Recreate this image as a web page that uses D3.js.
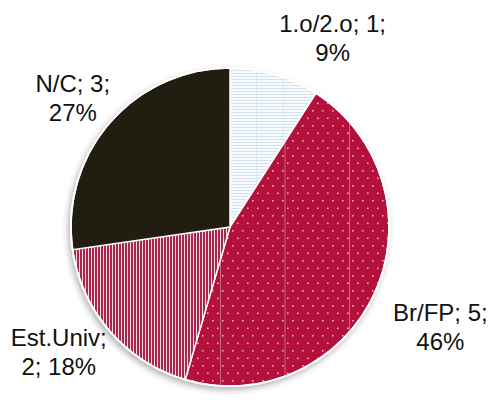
<!DOCTYPE html>
<html>
<head>
<meta charset="utf-8">
<script src="https://cdn.jsdelivr.net/npm/d3@7"></script>
<style>
    body { margin: 0; background: #ffffff; }
    svg { display: block; }
    .slice-label { font-family: "Liberation Sans", Arial, sans-serif; font-size: 24px; fill: #111111; }
</style>
</head>
<body>
<div id="chart"></div>
<script>
// Chart data.
var categories = ["1.o/2.o", "Br/FP", "Est.Univ", "N/C"];
var counts = [1, 5, 2, 3];
var percentLabels = ["9%", "46%", "18%", "27%"];
// How each label is broken into lines, as the reference does it.
var labelLines = [
    ["1.o/2.o; 1;", "9%"],
    ["Br/FP; 5;", "46%"],
    ["Est.Univ;", "2; 18%"],
    ["N/C; 3;", "27%"]
];

var width = 491;
var height = 403;
var centerX = 230;
var centerY = 227;
var radius = 159;
var lineHeight = 29;

// Label placement: radius factor and nudge for each slice label (layout only).
var labelRadius = [1.22, 1.42, 1.45, 1.25];
var labelNudge = [[48, -2], [5, 7], [3, -25], [-7, 2]];

var svg = d3.select("#chart")
    .append("svg")
    .attr("width", width)
    .attr("height", height);

var defs = svg.append("defs");

// Soft shadow below the pie.
var shadow = defs.append("filter")
    .attr("id", "pie-shadow")
    .attr("x", "-20%")
    .attr("y", "-20%")
    .attr("width", "140%")
    .attr("height", "140%");
shadow.append("feDropShadow")
    .attr("dx", -2)
    .attr("dy", 3)
    .attr("stdDeviation", 3)
    .attr("flood-color", "#000000")
    .attr("flood-opacity", 0.3);

// Light slice: white with thin blue-grey horizontal lines.
var linesPattern = defs.append("pattern")
    .attr("id", "fill-lines")
    .attr("patternUnits", "userSpaceOnUse")
    .attr("width", 27)
    .attr("height", 3);
linesPattern.append("rect")
    .attr("width", 27)
    .attr("height", 3)
    .attr("fill", "#f8fbfd");
linesPattern.append("rect")
    .attr("y", 2)
    .attr("width", 27)
    .attr("height", 1)
    .attr("fill", "#d3e2ec");
linesPattern.append("rect")
    .attr("x", 26)
    .attr("width", 1)
    .attr("height", 3)
    .attr("fill", "#dbe8f1");

// Crimson slice with small light dots.
var dotsPattern = defs.append("pattern")
    .attr("id", "fill-dots")
    .attr("patternUnits", "userSpaceOnUse")
    .attr("width", 10)
    .attr("height", 15);
dotsPattern.append("rect")
    .attr("width", 10)
    .attr("height", 15)
    .attr("fill", "#b3113c");
dotsPattern.append("rect")
    .attr("x", 2)
    .attr("y", 3)
    .attr("width", 1.6)
    .attr("height", 1.6)
    .attr("fill", "#f2a9ba");
dotsPattern.append("rect")
    .attr("x", 7)
    .attr("y", 10.5)
    .attr("width", 1.6)
    .attr("height", 1.6)
    .attr("fill", "#f2a9ba");

// Faint tile seams over the dotted slice.
var seamPattern = defs.append("pattern")
    .attr("id", "fill-seams")
    .attr("patternUnits", "userSpaceOnUse")
    .attr("x", 248)
    .attr("width", 64.5)
    .attr("height", 10);
seamPattern.append("rect")
    .attr("width", 1)
    .attr("height", 10)
    .attr("fill", "#d9a3b0");

// Crimson slice with fine vertical white stripes.
var stripesPattern = defs.append("pattern")
    .attr("id", "fill-stripes")
    .attr("patternUnits", "userSpaceOnUse")
    .attr("width", 3)
    .attr("height", 10);
stripesPattern.append("rect")
    .attr("width", 3)
    .attr("height", 10)
    .attr("fill", "#f4dbe2");
stripesPattern.append("rect")
    .attr("width", 2)
    .attr("height", 10)
    .attr("fill", "#a9274f");

var sliceFills = ["url(#fill-lines)", "url(#fill-dots)", "url(#fill-stripes)", "#211d10"];

var pie = d3.pie()
    .sort(null)
    .value(function (d) {
        return d;
    });
var arcs = pie(counts);

var arc = d3.arc()
    .innerRadius(0)
    .outerRadius(radius);

var pieGroup = svg.append("g")
    .attr("transform", "translate(" + centerX + "," + centerY + ")");

// Shadow disc drawn under the slices.
pieGroup.append("circle")
    .attr("r", radius + 1)
    .attr("fill", "#ffffff")
    .attr("filter", "url(#pie-shadow)");

pieGroup.selectAll("path.slice")
    .data(arcs)
    .enter()
    .append("path")
    .attr("class", "slice")
    .attr("d", arc)
    .attr("fill", function (d, i) {
        return sliceFills[i];
    })
    .attr("stroke", "#ffffff")
    .attr("stroke-width", 1.5)
    .attr("stroke-linejoin", "round");

// Seams only over the dotted slice.
svg.append("path")
    .attr("d", arc(arcs[1]))
    .attr("transform", "translate(" + centerX + "," + centerY + ")")
    .attr("fill", "url(#fill-seams)")
    .attr("opacity", 0.6)
    .attr("pointer-events", "none");

// White rim round the pie.
pieGroup.append("circle")
    .attr("r", radius)
    .attr("fill", "none")
    .attr("stroke", "#ffffff")
    .attr("stroke-width", 1.5);

// Labels outside the pie.
var labelGroup = svg.append("g")
    .attr("transform", "translate(" + centerX + "," + centerY + ")");

labelGroup.selectAll("text.slice-label")
    .data(arcs)
    .enter()
    .append("text")
    .attr("class", "slice-label")
    .attr("text-anchor", "middle")
    .each(function (d, i) {
        var labelArc = d3.arc()
            .innerRadius(radius * labelRadius[i])
            .outerRadius(radius * labelRadius[i]);
        var c = labelArc.centroid(d);
        var x = c[0] + labelNudge[i][0];
        var y = c[1] + labelNudge[i][1];
        var text = d3.select(this);
        labelLines[i].forEach(function (line, k) {
            text.append("tspan")
                .attr("x", x)
                .attr("y", y + (k - 0.5) * lineHeight + 8)
                .text(line);
        });
    });
</script>
</body>
</html>
